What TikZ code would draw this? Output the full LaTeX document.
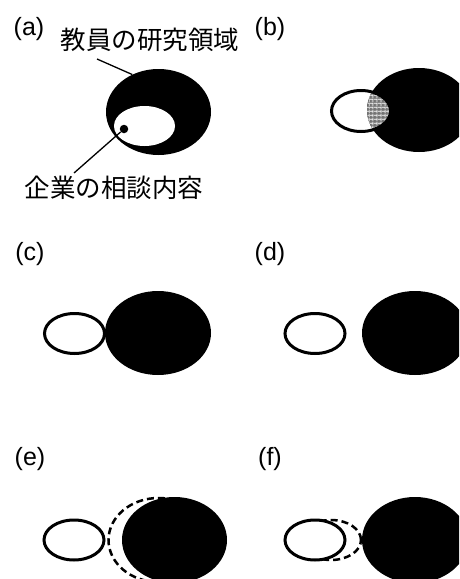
\documentclass[tikz,border=0pt]{standalone}
\usepackage{fontspec}
\setmainfont{Liberation Sans}
\newfontfamily\jp{Noto Sans CJK JP}
\usetikzlibrary{shapes.geometric,patterns.meta}

\tikzset{
  panel/.style={font=\fontsize{25}{25}\selectfont, inner sep=0pt},
  jplabel/.style={font=\jp\fontsize{25.5}{25.5}\selectfont, inner sep=0pt},
  domain/.style={ellipse, fill=black, inner sep=0pt,
    minimum width=#1, minimum height=86pt},
  domain/.default=106pt,
  query/.style={ellipse, draw, line width=3pt, fill=white, inner sep=0pt,
    minimum width=60pt, minimum height=40pt},
  ghost/.style={ellipse, draw, line width=2.5pt, dash pattern=on 7pt off 4pt,
    inner sep=0pt},
  leader/.style={line width=1.3pt},
}

\begin{document}
\begin{tikzpicture}[x=1pt, y=-1pt]
  \clip (0,0) rectangle (459,579);
  \fill[white] (0,0) rectangle (459,579);

  % (a) company query inside the faculty research domain
  \node[panel] (la) at (29,29) {(a)};
  \node[domain=105pt] (A) at (158.5,112) {};
  \node[ellipse, fill=white, inner sep=0pt, minimum width=61pt,
        minimum height=40pt] (Ai) at (144.5,126) {};
  \node[circle, fill=black, inner sep=0pt, minimum size=8.5pt] (dot) at (124,129) {};
  \node[jplabel] (ta) at (150,40) {教員の研究領域};
  \node[jplabel] (tb) at (114,188) {企業の相談内容};
  \coordinate (p1) at (97,59);
  \coordinate (p2) at (74,173);
  \draw[leader] (p1) -- (A.125);
  \draw[leader] (dot) -- (p2);

  % (b) partial overlap
  \node[panel] (lb) at (270,29) {(b)};
  \node[domain=104pt, minimum height=84pt] (B) at (419,110) {};
  \begin{scope}
    \clip (361,111) ellipse [x radius=29.5pt, y radius=20.5pt];
    \fill[black!55] (419,110) ellipse [x radius=52pt, y radius=42pt];
    \fill[pattern={Lines[angle=0,distance=4pt,line width=0.9pt]}, pattern color=white]
      (419,110) ellipse [x radius=52pt, y radius=42pt];
    \fill[pattern={Lines[angle=90,distance=4pt,line width=0.9pt]}, pattern color=white]
      (419,110) ellipse [x radius=52pt, y radius=42pt];
  \end{scope}
  \node[query, fill=none, minimum width=59pt, minimum height=41pt] (Bq) at (361,111) {};

  % (c) touching
  \node[panel] (lc) at (30,254) {(c)};
  \node[query] (Cq) at (74.5,333.5) {};
  \node[domain, minimum height=84pt] (C) at (158,333) {};

  % (d) separated
  \node[panel] (ld) at (270,254) {(d)};
  \node[query] (Dq) at (315,333.5) {};
  \node[domain, minimum height=84pt] (D) at (415,333) {};

  % (e) research domain moved away
  \node[panel] (le) at (30,459) {(e)};
  \node[query] (Eq) at (74,540) {};
  \node[ghost, minimum width=100pt, minimum height=84pt] (Eg) at (158.5,540) {};
  \node[domain=105pt] (E) at (174.5,540) {};

  % (f) query moved away
  \node[panel] (lf) at (270,459) {(f)};
  \node[ghost, minimum width=60pt, minimum height=40pt] (Fg) at (331,540) {};
  \node[query] (Fq) at (315,540) {};
  \node[domain] (F) at (415,540) {};
\end{tikzpicture}
\end{document}
